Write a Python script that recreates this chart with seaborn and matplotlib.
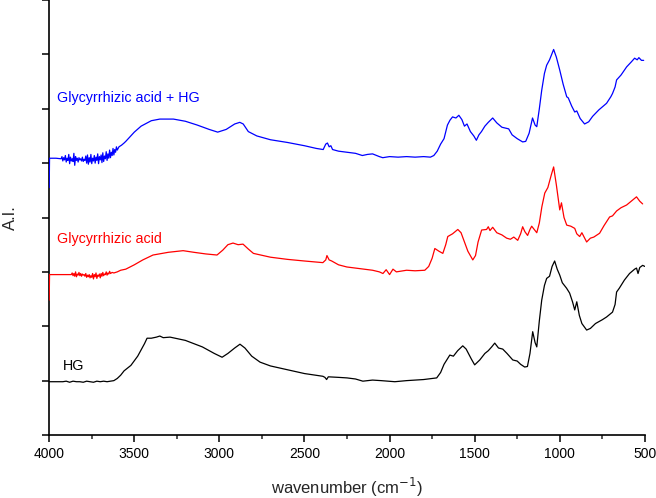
import numpy as np
import pandas as pd
import matplotlib
matplotlib.use("Agg")
import matplotlib.pyplot as plt
import seaborn as sns

sns.set_theme(style="ticks")
plt.rcParams['font.family'] = ['Liberation Sans', 'DejaVu Sans']

# noisy start of the blue spectrum (hand read)
blue_noise_wn = [4000, 3998, 3960, 3930, 3925, 3920, 3915, 3910, 3905, 3900, 3895, 3890, 3885,
                 3880, 3875, 3870, 3865, 3860, 3855, 3850, 3845, 3840, 3835, 3830, 3825, 3820,
                 3815, 3810, 3805, 3800, 3795, 3790, 3785, 3780, 3775, 3770, 3765, 3760, 3755,
                 3750, 3745, 3740, 3735, 3730, 3725, 3720, 3715, 3710, 3705, 3700, 3695, 3690,
                 3685, 3680, 3675, 3670, 3665, 3660, 3655, 3650, 3645, 3640, 3635, 3630, 3625,
                 3620, 3615, 3610, 3605, 3600, 3590, 3575, 3560]
blue_noise = [4.55, 5.09, 5.09, 5.08, 5.12, 5.04, 5.10, 5.06, 5.14, 5.02, 5.09, 5.05, 5.16,
              4.99, 5.11, 5.04, 5.08, 5.03, 5.18, 4.96, 5.12, 5.05, 5.09, 5.02, 5.10, 5.06,
              5.08, 5.04, 5.11, 5.03, 5.07, 5.05, 5.13, 5.00, 5.15, 4.98, 5.10, 5.02, 5.16,
              4.99, 5.09, 5.04, 5.14, 5.00, 5.11, 5.05, 5.17, 4.99, 5.12, 5.06, 5.15, 5.01,
              5.19, 5.03, 5.13, 5.08, 5.21, 5.05, 5.17, 5.09, 5.24, 5.10, 5.20, 5.14, 5.27,
              5.15, 5.25, 5.20, 5.30, 5.24, 5.30, 5.33, 5.37]

red_noise_wn = [4000, 3998, 3900, 3870, 3865, 3860, 3855, 3850, 3845, 3840, 3835, 3830, 3825,
                3820, 3815, 3810, 3805, 3800, 3795, 3790, 3785, 3780, 3775, 3770, 3765, 3760,
                3755, 3750, 3745, 3740, 3735, 3730, 3725, 3720, 3715, 3710, 3705, 3700, 3695,
                3690, 3685, 3680, 3675, 3670, 3665, 3660, 3655, 3650, 3645, 3640, 3630, 3620,
                3600, 3580]
red_noise = [2.48, 2.95, 2.95, 2.95, 2.98, 2.93, 2.97, 2.92, 3.00, 2.91, 2.96, 2.94, 2.99,
             2.93, 2.97, 2.92, 2.96, 2.94, 2.95, 2.92, 2.97, 2.90, 2.94, 2.91, 2.95, 2.89,
             2.93, 2.90, 2.97, 2.87, 2.95, 2.91, 2.98, 2.88, 2.94, 2.92, 2.96, 2.89, 2.97,
             2.92, 2.99, 2.93, 2.96, 2.95, 3.00, 2.94, 2.98, 2.96, 3.01, 2.97, 2.99, 2.98,
             3.00, 3.03]

black_noise_wn = [4000, 3960, 3920, 3900, 3880, 3860, 3840, 3820, 3800, 3780, 3760, 3740, 3720,
                  3700, 3680, 3660, 3640, 3620, 3600, 3580]
black_noise = [0.98, 0.98, 0.98, 0.99, 0.97, 0.99, 0.98, 0.98, 0.97, 0.99, 0.98, 0.97, 0.99,
               0.98, 0.99, 0.98, 0.99, 1.00, 1.04, 1.10]

blue_wn = [3550, 3500, 3460, 3400, 3350, 3270, 3200, 3130, 3060, 3010, 2960, 2910, 2880, 2860,
           2830, 2780, 2700, 2600, 2500, 2430, 2390, 2375, 2365, 2355, 2345, 2335, 2300, 2250,
           2200, 2160, 2130, 2100, 2060, 2040, 2000, 1950, 1900, 1850, 1800, 1760, 1740, 1720,
           1700, 1680, 1660, 1645, 1630, 1610, 1593, 1575, 1560, 1545, 1525, 1505, 1490, 1475,
           1460, 1440, 1420, 1394, 1370, 1340, 1300, 1280, 1250, 1218, 1200, 1180, 1160, 1145,
           1135, 1120, 1106, 1090, 1077, 1060, 1036, 1020, 1000, 980, 959, 950, 930, 912, 900,
           880, 854, 830, 807, 770, 725, 700, 690, 675, 666, 640, 607, 580, 560, 545, 535, 520, 507]
blue_ai = [5.40, 5.57, 5.68, 5.78, 5.81, 5.81, 5.77, 5.70, 5.62, 5.57, 5.62, 5.72, 5.75, 5.72,
           5.58, 5.50, 5.43, 5.38, 5.32, 5.27, 5.25, 5.35, 5.37, 5.30, 5.32, 5.25, 5.22, 5.20,
           5.18, 5.14, 5.16, 5.17, 5.12, 5.10, 5.12, 5.11, 5.12, 5.11, 5.12, 5.11, 5.14, 5.22,
           5.35, 5.45, 5.70, 5.79, 5.85, 5.83, 5.88, 5.80, 5.68, 5.72, 5.58, 5.50, 5.42, 5.52,
           5.58, 5.68, 5.75, 5.83, 5.74, 5.66, 5.63, 5.52, 5.45, 5.39, 5.40, 5.55, 5.83, 5.70,
           5.67, 6.00, 6.34, 6.65, 6.80, 6.90, 7.09, 6.95, 6.71, 6.45, 6.22, 6.20, 6.05, 5.94, 5.96,
           5.82, 5.72, 5.76, 5.86, 5.98, 6.10, 6.22, 6.28, 6.40, 6.53, 6.62, 6.77, 6.86, 6.93, 6.90,
           6.94, 6.89, 6.89]

red_wn = [3550, 3500, 3450, 3390, 3300, 3213, 3150, 3080, 3014, 2980, 2950, 2920, 2890, 2861,
          2830, 2800, 2700, 2600, 2500, 2392, 2375, 2368, 2355, 2340, 2300, 2251, 2200, 2150,
          2100, 2060, 2039, 2020, 2000, 1980, 1960, 1900, 1850, 1793, 1770, 1750, 1734, 1710,
          1687, 1670, 1658, 1630, 1599, 1580, 1560, 1540, 1511, 1495, 1480, 1459, 1430, 1420,
          1410, 1394, 1370, 1340, 1312, 1290, 1270, 1247, 1230, 1218, 1205, 1189, 1175, 1165,
          1150, 1135, 1120, 1105, 1088, 1070, 1050, 1036, 1020, 1000, 990, 975, 959, 935, 912,
          900, 883, 870, 842, 820, 800, 766, 740, 707, 690, 666, 640, 607, 580, 549, 530, 513]
red_ai = [3.05, 3.13, 3.22, 3.31, 3.36, 3.39, 3.36, 3.33, 3.31, 3.40, 3.50, 3.53, 3.50, 3.51,
          3.42, 3.34, 3.27, 3.23, 3.20, 3.17, 3.22, 3.30, 3.22, 3.20, 3.13, 3.09, 3.07, 3.05,
          3.03, 3.00, 2.97, 3.04, 2.95, 3.05, 3.00, 3.03, 3.02, 3.03, 3.10, 3.25, 3.43, 3.38,
          3.34, 3.50, 3.65, 3.70, 3.78, 3.72, 3.55, 3.38, 3.22, 3.30, 3.55, 3.77, 3.78, 3.83,
          3.76, 3.82, 3.72, 3.68, 3.62, 3.60, 3.64, 3.58, 3.70, 3.83, 3.74, 3.67, 3.78, 3.84,
          3.78, 3.72, 3.90, 4.20, 4.45, 4.55, 4.78, 4.93, 4.60, 4.14, 4.27, 4.00, 3.86, 3.84, 3.80,
          3.70, 3.65, 3.72, 3.55, 3.62, 3.64, 3.71, 3.85, 4.01, 4.03, 4.12, 4.18, 4.23, 4.30, 4.38,
          4.30, 4.25]

black_wn = [3560, 3520, 3480, 3440, 3425, 3400, 3370, 3350, 3330, 3290, 3200, 3100, 3030, 2984,
            2950, 2910, 2879, 2850, 2810, 2761, 2700, 2600, 2500, 2392, 2380, 2370, 2360, 2300,
            2250, 2200, 2157, 2100, 2050, 1969, 1900, 1800, 1723, 1700, 1680, 1646, 1625, 1600,
            1570, 1550, 1520, 1500, 1470, 1440, 1420, 1400, 1382, 1360, 1335, 1310, 1276, 1250,
            1230, 1206, 1190, 1175, 1159, 1145, 1135, 1120, 1106, 1090, 1077, 1060, 1045, 1030,
            1015, 1000, 985, 960, 942, 925, 912, 900, 885, 870, 842, 820, 790, 750, 725, 690, 675,
            666, 650, 620, 590, 560, 549, 540, 530, 513, 500]
black_ai = [1.18, 1.28, 1.45, 1.68, 1.78, 1.78, 1.80, 1.82, 1.79, 1.80, 1.74, 1.62, 1.50, 1.43,
            1.50, 1.60, 1.67, 1.60, 1.45, 1.34, 1.27, 1.20, 1.13, 1.08, 1.06, 1.02, 1.07, 1.06,
            1.05, 1.03, 0.99, 1.01, 1.00, 0.98, 1.00, 1.02, 1.05, 1.15, 1.30, 1.47, 1.45, 1.55,
            1.64, 1.58, 1.40, 1.29, 1.38, 1.50, 1.55, 1.62, 1.69, 1.60, 1.58, 1.50, 1.38, 1.36,
            1.30, 1.25, 1.26, 1.50, 1.90, 1.70, 1.62, 2.10, 2.48, 2.75, 2.88, 2.92, 3.10, 3.20,
            3.05, 2.94, 2.80, 2.70, 2.61, 2.45, 2.30, 2.45, 2.20, 2.05, 1.93, 1.96, 2.05, 2.12,
            2.17, 2.26, 2.40, 2.63, 2.70, 2.85, 2.97, 3.05, 3.07, 2.97, 3.08, 3.12, 3.10]

names = ["HG", "Glycyrrhizic acid", "Glycyrrhizic acid + HG"]
colors = ["black", "#ff0000", "#0000ff"]

frames = []
for name, wn, ai in [
    (names[0], black_noise_wn + black_wn, black_noise + black_ai),
    (names[1], red_noise_wn + red_wn, red_noise + red_ai),
    (names[2], blue_noise_wn + blue_wn, blue_noise + blue_ai),
]:
    frames.append(pd.DataFrame({"wavenumber": wn, "ai": ai, "sample": name}))
df = pd.concat(frames, ignore_index=True)

fig = plt.figure(figsize=(6.56, 4.98), dpi=100)
ax = fig.add_axes([0.075, 0.1265, 0.908, 0.8735])

sns.lineplot(data=df, x="wavenumber", y="ai", hue="sample", hue_order=names,
             palette=colors, estimator=None, sort=True, linewidth=0.9, legend=False,
             zorder=3, ax=ax)

ax.set_xlim(4000, 500)
ax.set_ylim(0, 8)
ax.set_xticks(np.arange(4000, 499, -500))
ax.set_xticks(np.arange(3750, 500, -500), minor=True)
ax.set_yticks(np.arange(0, 9, 1))
ax.set_yticklabels([])
ax.tick_params(axis="both", which="major", direction="out", length=5, width=1.1,
               labelsize=10, colors="black")
ax.tick_params(axis="x", which="minor", direction="out", length=3, width=1.1)
for s in ["top", "right"]:
    ax.spines[s].set_visible(False)
for s in ["left", "bottom"]:
    ax.spines[s].set_linewidth(1.2)
    ax.spines[s].set_color("black")

ax.set_xlabel("wavenumber (cm$^{-1}$)", fontsize=12, labelpad=11)
ax.set_ylabel("A.I.", fontsize=12, labelpad=14)

# curve labels
ax.text(3955, 6.2, "Glycyrrhizic acid + HG", color="#0000ff", fontsize=10.3, va="center")
ax.text(3955, 3.6, "Glycyrrhizic acid", color="#ff0000", fontsize=10.3, va="center")
ax.text(3920, 1.27, "HG", color="black", fontsize=10.3, va="center")

fig.savefig("out.png", dpi=100)
